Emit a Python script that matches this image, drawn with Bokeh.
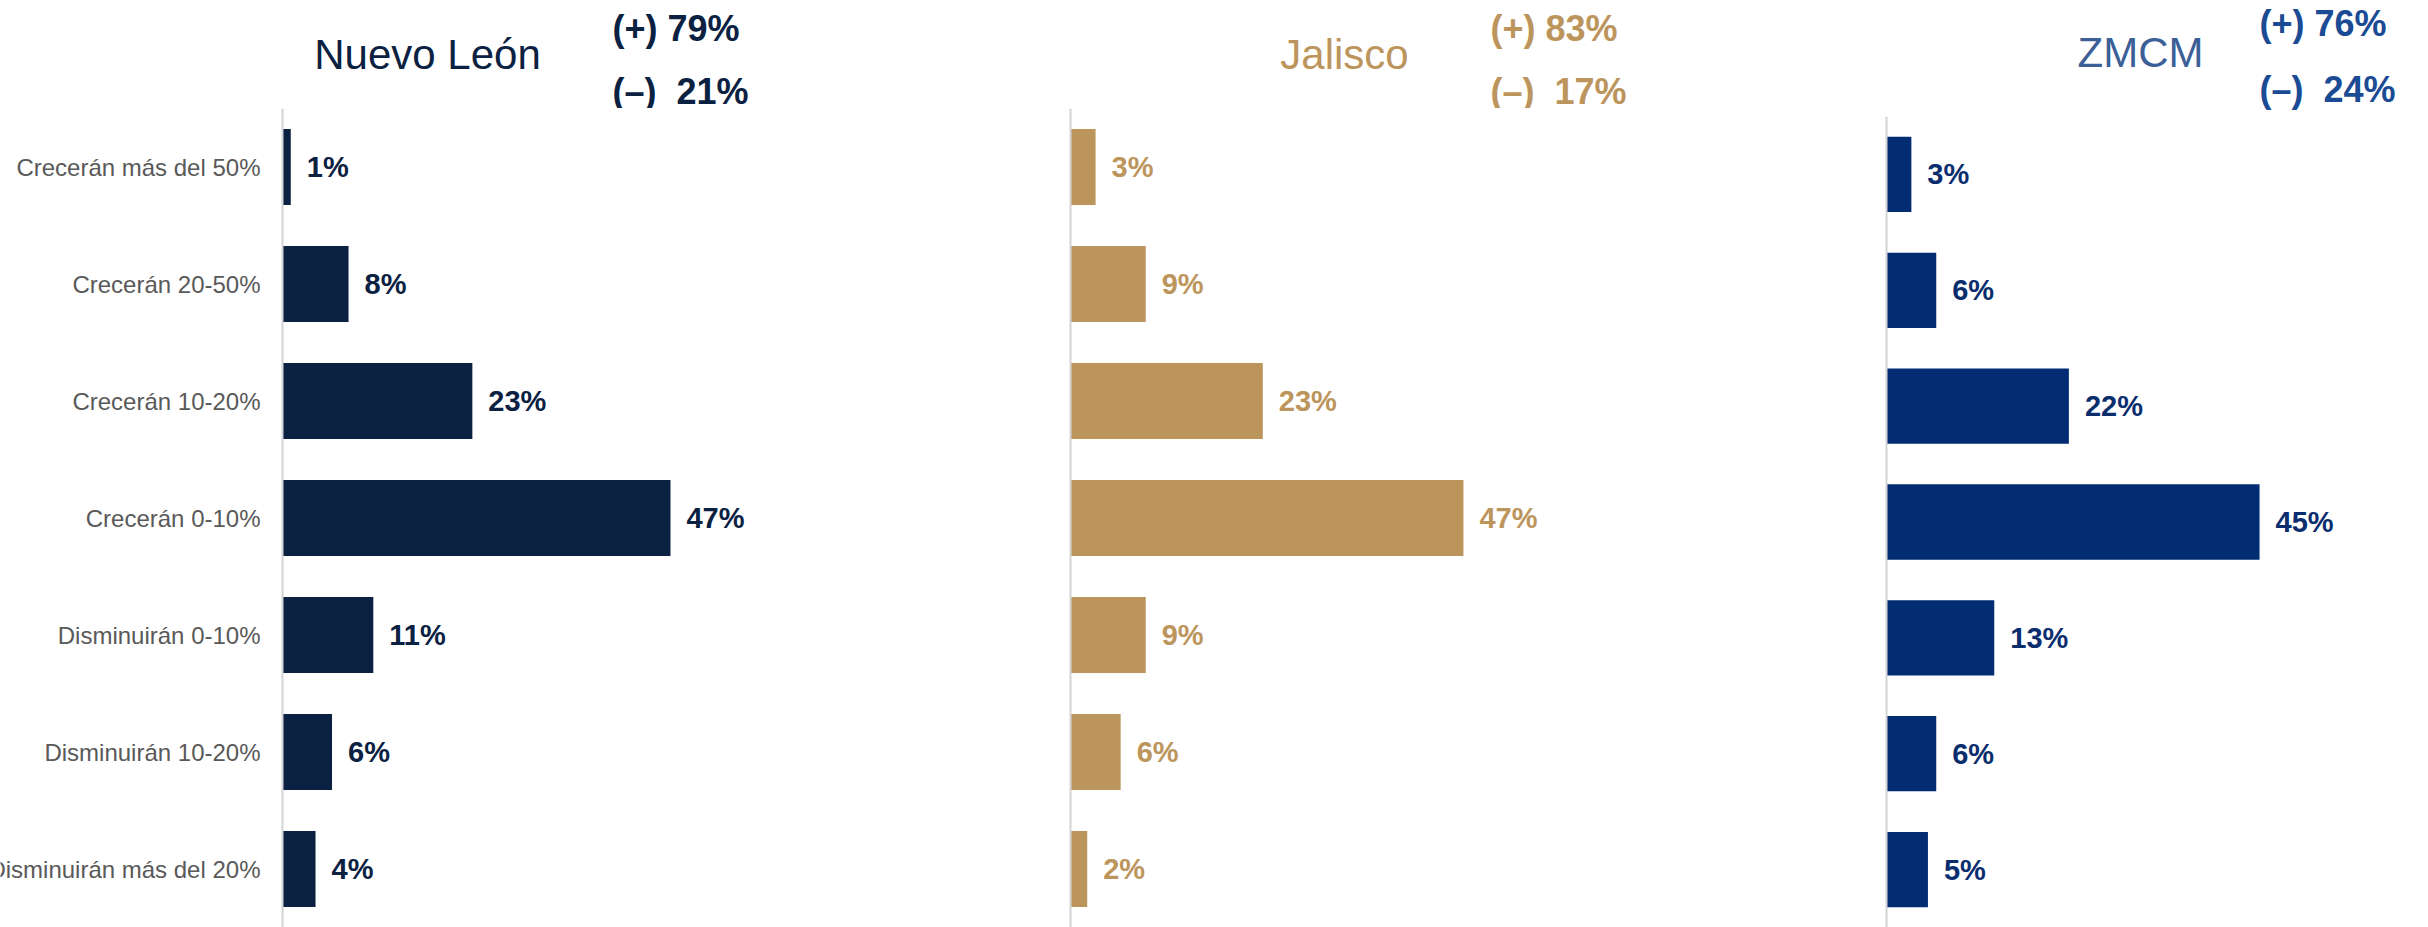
from bokeh.plotting import figure
from bokeh.layouts import row, column
from bokeh.models import Span, FactorRange, Range1d, ColumnDataSource
from bokeh.core.properties import value
from bokeh.embed import file_html
from bokeh.resources import INLINE

# ---------------- data ----------------
categories = [
    "Crecerán más del 50%",
    "Crecerán 20-50%",
    "Crecerán 10-20%",
    "Crecerán 0-10%",
    "Disminuirán 0-10%",
    "Disminuirán 10-20%",
    "Disminuirán más del 20%",
]
regions = ["Nuevo León", "Jalisco", "ZMCM"]
nuevo_leon = [1, 8, 23, 47, 11, 6, 4]
jalisco = [3, 9, 23, 47, 9, 6, 2]
zmcm = [3, 6, 22, 45, 13, 6, 5]
pos_share = [79, 83, 76]
neg_share = [21, 17, 24]

# ---------------- style ----------------
FONT = "'Liberation Sans', Arial, sans-serif"
bar_colors = ["#0b2142", "#bc955c", "#032d73"]
title_colors = ["#0b2142", "#bc955c", "#3b5f96"]
share_colors = ["#0b2142", "#bc955c", "#1a4b94"]
label_colors = ["#0b2142", "#bc955c", "#0a2d6e"]

PAGE_H = 927
origin_x = [0, 790, 1700]          # x of each panel's left edge
panel_w = [790, 910, 728]
axis_x = [282, 1070, 1886]         # x of the zero line
ppu = [8.255, 8.36, 8.29]          # pixels per percentage point
header_h = [108, 108, 116]
title_cx = [427, 1344, 2140]
title_cy = [54, 54, 52]
share_x = [612, 1490, 2259]
share_y = [(28, 91), (28, 91), (23, 89)]

series = [nuevo_leon, jalisco, zmcm]
rev = categories[::-1]


def base_fig(w, h, xr, yr):
    f = figure(width=w, height=h, x_range=xr, y_range=yr,
               output_backend="svg", toolbar_location=None, title=None,
               min_border_left=0, min_border_right=0,
               min_border_top=0, min_border_bottom=0)
    f.outline_line_color = None
    f.grid.visible = False
    f.axis.visible = False
    f.background_fill_color = "white"
    f.border_fill_color = "white"
    return f


cols = []
for i, (name, vals) in enumerate(zip(regions, series)):
    x0 = -(axis_x[i] - origin_x[i]) / ppu[i]
    x1 = (origin_x[i] + panel_w[i] - axis_x[i]) / ppu[i]
    xr = Range1d(x0, x1)

    # header: y measured downward from the top
    hh = header_h[i]
    hdr = base_fig(panel_w[i], hh, xr, Range1d(hh, 0))
    tx = (title_cx[i] - axis_x[i]) / ppu[i]
    sx = (share_x[i] - axis_x[i]) / ppu[i]
    hdr.text(x=[tx], y=[title_cy[i]], text=[name],
             text_align="center", text_baseline="middle",
             text_font=value(FONT), text_font_size="42px",
             text_color=title_colors[i])
    hdr.text(x=[sx, sx], y=[share_y[i][0], share_y[i][1]],
             text=[f"(+) {pos_share[i]}%", f"(–)\u00a0 {neg_share[i]}%"],
             text_align="left", text_baseline="middle",
             text_font=value(FONT), text_font_style="bold",
             text_font_size="36px", text_color=share_colors[i])

    # chart
    ch = base_fig(panel_w[i], PAGE_H - hh, xr,
                  FactorRange(factors=rev, range_padding=0))
    src = ColumnDataSource(dict(cat=categories, v=vals,
                                lab=[f"{v}%" for v in vals]))
    ch.add_layout(Span(location=0, dimension="height",
                       line_color="#d4d4d4", line_width=2))
    ch.hbar(y="cat", right="v", left=0, height=0.65, source=src,
            fill_color=bar_colors[i], line_color=None)
    ch.text(x="v", y="cat", text="lab", source=src, x_offset=16,
            text_align="left", text_baseline="middle",
            text_font=value(FONT), text_font_style="bold",
            text_font_size="29px", text_color=label_colors[i])
    if i == 0:
        ch.text(x=0, y="cat", text="cat", source=src, x_offset=-22,
                text_align="right", text_baseline="middle",
                text_font=value(FONT), text_font_size="24px",
                text_color="#595959")
    cols.append(column(hdr, ch))

layout = row(*cols)
open("out.html", "w").write(file_html(layout, INLINE))
